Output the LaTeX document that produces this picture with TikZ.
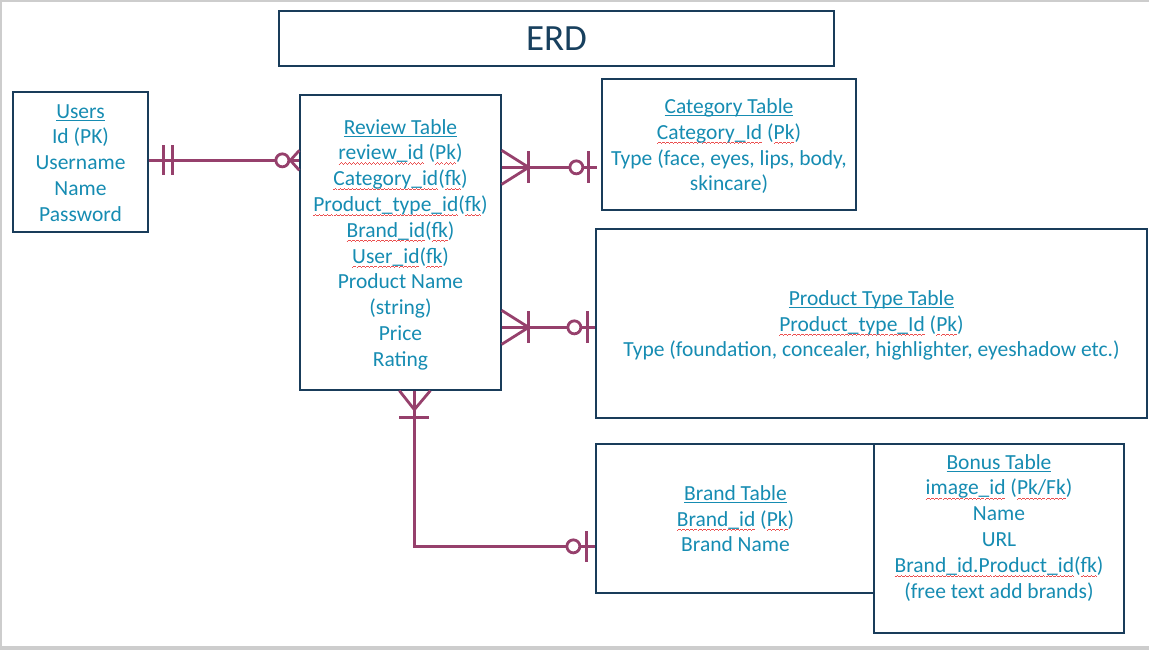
\documentclass[tikz,border=0pt]{standalone}
\usepackage{fontspec}
\setmainfont{Carlito}
\usetikzlibrary{calc}
\definecolor{boxc}{RGB}{25,60,90}
\definecolor{txt}{RGB}{22,140,178}
\definecolor{erdc}{RGB}{24,64,94}
\definecolor{plum}{RGB}{150,64,108}
\definecolor{squig}{RGB}{235,80,80}
\definecolor{framec}{RGB}{205,205,205}
\newcommand\ulx[1]{\setbox0\hbox{#1}\rlap{\rule[-2.8pt]{\wd0}{1.1pt}}\box0\relax}
\newcommand\wavepat{\hbox{\rule[-4.6pt]{1pt}{0.8pt}\rule[-4pt]{1pt}{0.8pt}\rule[-3.4pt]{1pt}{0.8pt}\rule[-4pt]{1pt}{0.8pt}}}
\newcommand\sq[1]{\setbox0\hbox{#1}\rlap{{\color{squig}\hbox to \wd0{\xleaders\wavepat\hfill}}}\box0\relax}
\newcommand\topst{\rule{0pt}{23pt}}
\begin{document}
\begin{tikzpicture}[x=1pt,y=-1pt,
  tbl/.style={draw=boxc,line width=1.3pt,rectangle,inner sep=0pt,text=txt,align=center,
    font=\fontsize{21.5}{25.8}\selectfont},
  tx/.style={text=txt,align=center,inner sep=0pt,font=\fontsize{21.5}{25.8}\selectfont},
  conn/.style={draw=plum,line width=2.8pt}]
\useasboundingbox (0,0) rectangle (1149,650);
% frame
\draw[framec,line width=1.5pt] (0,1) -- (1149,1);
\draw[framec,line width=1.5pt] (1,0) -- (1,650);
\fill[framec] (0,646) rectangle (1149,650);
% title
\node[tbl,minimum width=555pt,minimum height=55pt,text=erdc,font=\fontsize{37}{40}\selectfont] (title) at (556.5,38.5) {ERD};
% tables
\node[tbl,minimum width=135pt,minimum height=140pt] (users) at (80.5,162)
  {\ulx{Users}\topst\\ Id (PK)\\ Username\\ Name\\ Password\strut};
\node[tbl,minimum width=201pt,minimum height=295pt] (review) at (400.5,242.5)
  {\ulx{Review Table}\topst\\ \sq{review\_id} (\sq{Pk})\\ \sq{Category\_id}(\sq{fk})\\
   \sq{Product\_type\_id}(\sq{fk})\\ \sq{Brand\_id}(\sq{fk})\\ \sq{User\_id}(\sq{fk})\\
   Product Name\\ (string)\\ Price\\ Rating\strut};
\node[tbl,minimum width=254pt,minimum height=131pt] (cat) at (729,144.5)
  {\ulx{Category Table}\topst\\ \sq{Category\_Id} (\sq{Pk})\\ Type (face, eyes, lips, body,\\ skincare)\strut};
\node[tbl,minimum width=551pt,minimum height=189pt] (ptype) at (871.5,323.5)
  {\ulx{Product Type Table}\topst\\ \sq{Product\_type\_Id} (\sq{Pk})\\ Type (foundation, concealer, highlighter, eyeshadow etc.)\strut};
\node[tbl,minimum width=279pt,minimum height=149pt] (brand) at (735.5,518.5)
  {\ulx{Brand Table}\topst\\ \sq{Brand\_id} (\sq{Pk})\\ Brand Name\strut};
\node[tbl,fill=white,minimum width=250pt,minimum height=189pt] (bonus) at (999,538.5) {};
\node[tx] (bonust) at (999,526)
  {\ulx{Bonus Table}\topst\\ \sq{image\_id} (\sq{Pk/Fk})\\ Name\\ URL\\ \sq{Brand\_id.Product\_id}(\sq{fk})\\ (free text add brands)\strut};
% connector users - review
\coordinate (u) at ($(users.north east)+(0,69)$);
\coordinate (r) at (review.west |- u);
\draw[conn] (u) -- (r);
\draw[conn] ($(u)+(15,-15)$) -- ($(u)+(15,15)$);
\draw[conn] ($(u)+(24,-15)$) -- ($(u)+(24,15)$);
\draw[conn] ($(r)+(-9,0)$) -- ($(r)+(0,-10)$);
\draw[conn] ($(r)+(-9,0)$) -- ($(r)+(0,10)$);
\draw[conn,fill=white] ($(r)+(-17,0)$) circle[radius=6.5];
% connector review - category
\coordinate (r2) at ($(review.north east)+(0,73)$);
\coordinate (c2) at ($(cat.west |- r2)+(-4,0)$);
\draw[conn] (r2) -- (c2);
\draw[conn] ($(r2)+(27,0)$) -- ($(r2)+(0,-17)$);
\draw[conn] ($(r2)+(27,0)$) -- ($(r2)+(0,17)$);
\draw[conn] ($(r2)+(27,-16)$) -- ($(r2)+(27,16)$);
\draw[conn,fill=white] ($(c2)+(-21,0)$) circle[radius=6.5];
\draw[conn] ($(c2)+(-9,-16)$) -- ($(c2)+(-9,16)$);
% connector review - product type
\coordinate (r3) at ($(review.north east)+(0,233)$);
\coordinate (p3) at (ptype.west |- r3);
\draw[conn] (r3) -- (p3);
\draw[conn] ($(r3)+(27,0)$) -- ($(r3)+(0,-17)$);
\draw[conn] ($(r3)+(27,0)$) -- ($(r3)+(0,17)$);
\draw[conn] ($(r3)+(27,-16)$) -- ($(r3)+(27,16)$);
\draw[conn,fill=white] ($(p3)+(-21,0)$) circle[radius=6.5];
\draw[conn] ($(p3)+(-8,-16)$) -- ($(p3)+(-8,16)$);
% connector review - brand
\coordinate (r4) at ($(review.south west)+(115,0)$);
\coordinate (b4) at ($(brand.north west)+(0,103)$);
\draw[conn] (r4) -- (r4 |- b4) -- (b4);
\draw[conn] ($(r4)+(0,19)$) -- ($(r4)+(-15,0)$);
\draw[conn] ($(r4)+(0,19)$) -- ($(r4)+(16,0)$);
\draw[conn] ($(r4)+(-15,27)$) -- ($(r4)+(15,27)$);
\draw[conn,fill=white] ($(b4)+(-22,0)$) circle[radius=6.5];
\draw[conn] ($(b4)+(-9,-15)$) -- ($(b4)+(-9,16)$);
\end{tikzpicture}
\end{document}
